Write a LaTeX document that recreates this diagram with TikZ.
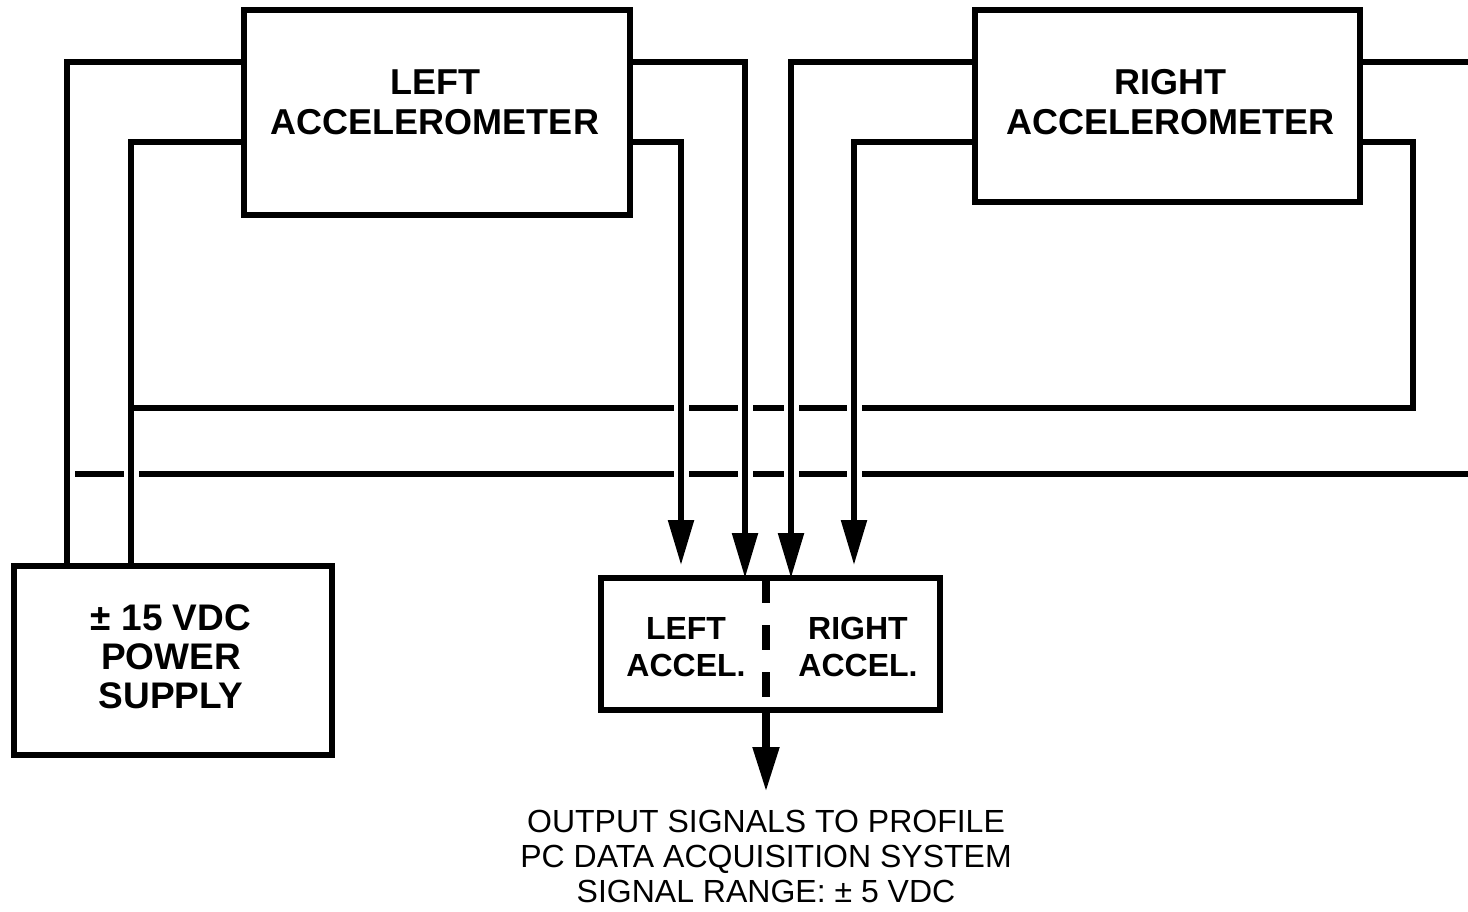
\documentclass[tikz,border=0pt]{standalone}
\usepackage{fontspec}
\setmainfont{Liberation Sans}
\usetikzlibrary{arrows.meta}
\pgfdeclarelayer{back}
\pgfsetlayers{back,main}
\begin{document}
\begin{tikzpicture}[x=0.5pt,y=-0.5pt,
  wire/.style={line width=2.75pt},
  halo/.style={draw=white,line width=7.5pt},
  arr/.style={-{Triangle[length=22.5pt,width=12.5pt]}},
  box/.style={draw,line width=2.75pt,inner sep=0pt,outer sep=0pt},
  bigtxt/.style={font=\fontsize{18}{20}\selectfont\bfseries,align=center,inner sep=0pt},
  pstxt/.style={font=\fontsize{18.5}{19.5}\selectfont\bfseries,align=center,inner sep=0pt},
  midtxt/.style={font=\fontsize{16}{18.5}\selectfont\bfseries,align=center,inner sep=0pt},
  outtxt/.style={font=\fontsize{16}{17.5}\selectfont,align=center,inner xsep=0pt,inner ysep=9pt}]
\useasboundingbox (0,0) rectangle (1468,911);
% rows and columns
\coordinate (rowA) at (0,62);
\coordinate (rowB) at (0,142);
\coordinate (rowC) at (0,408);
\coordinate (rowD) at (0,474);
\coordinate (colP1) at (67,0);
\coordinate (colP2) at (131,0);
\coordinate (colLA2) at (681,0);
\coordinate (colLA1) at (745,0);
\coordinate (colRA1) at (791,0);
\coordinate (colRA2) at (854,0);
\coordinate (colRR) at (1413,0);
\coordinate (colDiv) at (766,0);
\coordinate (colEdge) at (1468,0);
% boxes
\node[box,minimum width=193pt,minimum height=102.5pt] (lacc) at (437,112.5) {};
\node[bigtxt] (lacct) at (435,102) {LEFT\\ACCELEROMETER};
\node[box,minimum width=192.5pt,minimum height=96pt] (racc) at (1167.5,106) {};
\node[bigtxt] (racct) at (1170.5,102) {RIGHT\\ACCELEROMETER};
\node[box,minimum width=159pt,minimum height=94.5pt] (ps) at (173,660.5) {};
\node[pstxt] (pst) at (171,657) {± 15 VDC\\POWER\\SUPPLY};
\node[box,minimum width=169.5pt,minimum height=66pt] (cbox) at (770.5,644) {};
\node[midtxt] (ctl) at (686,647) {LEFT\\ACCEL.};
\node[midtxt] (ctr) at (858,647) {RIGHT\\ACCEL.};
\draw[line width=4pt,dash pattern=on 12.5pt off 11pt] (cbox.north -| colDiv) -- (cbox.south -| colDiv);
\node[outtxt,anchor=north] (out) at (766,792) {OUTPUT SIGNALS TO PROFILE\\PC DATA ACQUISITION SYSTEM\\SIGNAL RANGE: ± 5 VDC};
\draw[line width=4pt,arr] (cbox.south -| colDiv) -- (out.north);
\begin{pgfonlayer}{back}
  % long power line (y=474) and its continuation at top right
  \draw[wire] (colP1 |- rowD) -- (colEdge |- rowD);
  \draw[wire] (racc.east |- rowA) -- (colEdge |- rowA);
  % power wires to left accelerometer
  \draw[halo] (ps.north -| colP1) |- (lacc.west |- rowA);
  \draw[wire] (ps.north -| colP1) |- (lacc.west |- rowA);
  \draw[halo] (ps.north -| colP2) |- (lacc.west |- rowB);
  \draw[wire] (ps.north -| colP2) |- (lacc.west |- rowB);
  % power wire to right accelerometer
  \draw[wire] (racc.east |- rowB) -| (colRR |- rowC) -- (colP2 |- rowC);
  % output wires
  \draw[halo] (lacc.east |- rowA) -| (colLA1 |- cbox.north);
  \draw[halo] (lacc.east |- rowB) -| (colLA2 |- cbox.north);
  \draw[halo] (racc.west |- rowA) -| (colRA1 |- cbox.north);
  \draw[halo] (racc.west |- rowB) -| (colRA2 |- cbox.north);
  \draw[wire,arr] (lacc.east |- rowA) -| (colLA1 |- cbox.north);
  \draw[wire,arr,shorten >=6.5pt] (lacc.east |- rowB) -| (colLA2 |- cbox.north);
  \draw[wire,arr] (racc.west |- rowA) -| (colRA1 |- cbox.north);
  \draw[wire,arr,shorten >=6.5pt] (racc.west |- rowB) -| (colRA2 |- cbox.north);
\end{pgfonlayer}
\end{tikzpicture}
\end{document}
